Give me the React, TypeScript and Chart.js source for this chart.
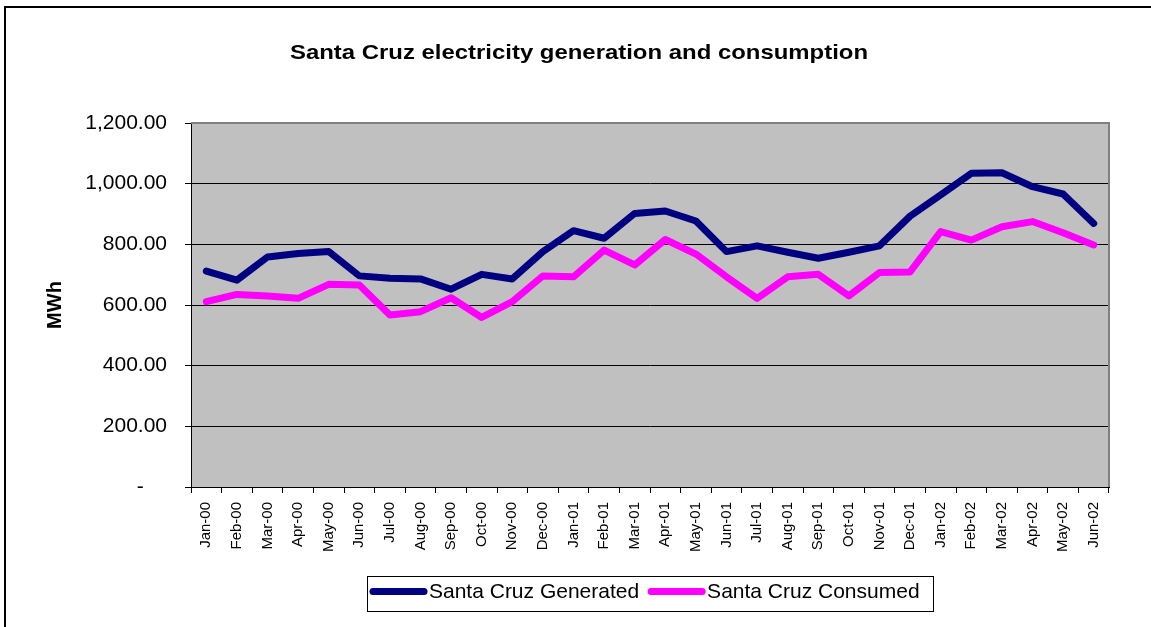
import { useEffect, useRef } from 'react';
import { Chart, registerables } from 'chart.js';

Chart.register(...registerables);

const W = 1151;
const H = 627;
const FONT = '"Liberation Sans", Arial, Helvetica, sans-serif';

const months = [
  'Jan-00', 'Feb-00', 'Mar-00', 'Apr-00', 'May-00', 'Jun-00',
  'Jul-00', 'Aug-00', 'Sep-00', 'Oct-00', 'Nov-00', 'Dec-00',
  'Jan-01', 'Feb-01', 'Mar-01', 'Apr-01', 'May-01', 'Jun-01',
  'Jul-01', 'Aug-01', 'Sep-01', 'Oct-01', 'Nov-01', 'Dec-01',
  'Jan-02', 'Feb-02', 'Mar-02', 'Apr-02', 'May-02', 'Jun-02',
];

// Monthly energy, MWh
const generated = [
  712, 682, 758, 770, 776, 696, 688, 686, 652, 701, 686, 776,
  845, 820, 902, 910, 877, 776, 795, 774, 754, 774, 795, 893,
  963, 1034, 1036, 990, 966, 869,
];
const consumed = [
  611, 635, 630, 622, 668, 666, 567, 578, 624, 559, 611, 696,
  693, 781, 732, 816, 768, 693, 622, 693, 701, 630, 707, 709,
  842, 814, 858, 875, 838, 798,
];

const seriesNames = ['Santa Cruz Generated', 'Santa Cruz Consumed'];
const seriesColors = ['#000080', '#ff00ff'];
const titleText = 'Santa Cruz electricity generation and consumption';
const yTitle = 'MWh';
const yMin = 0;
const yMax = 1200;
const yStep = 200;

const fmt = (v: number) =>
  v === 0
    ? '-    '
    : v.toLocaleString('en-US', { minimumFractionDigits: 2, maximumFractionDigits: 2 });

const decorPlugin = {
  id: 'decor',
  beforeDraw(chart: any) {
    const { ctx, chartArea: a } = chart;
    ctx.save();
    ctx.fillStyle = '#ffffff';
    ctx.fillRect(0, 0, W, H);
    ctx.fillStyle = '#c0c0c0';
    ctx.fillRect(a.left, a.top, a.right - a.left, a.bottom - a.top);
    ctx.restore();
  },
  beforeDatasetsDraw(chart: any) {
    const { ctx, chartArea: a } = chart;
    ctx.save();
    ctx.strokeStyle = '#808080';
    ctx.lineWidth = 2;
    ctx.beginPath();
    ctx.moveTo(a.left, a.top);
    ctx.lineTo(a.right, a.top);
    ctx.lineTo(a.right, a.bottom);
    ctx.stroke();
    ctx.restore();
  },
  afterDraw(chart: any) {
    const { ctx, chartArea: a } = chart;
    ctx.save();
    // outer chart frame
    ctx.fillStyle = '#000';
    ctx.fillRect(4, 6, W, 2);
    ctx.fillRect(4, 6, 2, H);

    // title, slightly widened
    ctx.fillStyle = '#000';
    ctx.font = `bold 21px ${FONT}`;
    ctx.textAlign = 'center';
    ctx.textBaseline = 'alphabetic';
    const tw = ctx.measureText(titleText).width;
    const sx = 578 / tw;
    ctx.save();
    ctx.translate(579, 59);
    ctx.scale(sx, 1);
    ctx.fillText(titleText, 0, 0);
    ctx.restore();

    // value axis title
    ctx.save();
    ctx.translate(55, (a.top + a.bottom) / 2);
    ctx.rotate(-Math.PI / 2);
    ctx.font = `bold 20px ${FONT}`;
    ctx.textAlign = 'center';
    ctx.textBaseline = 'middle';
    ctx.fillText(yTitle, 0, 0);
    ctx.restore();

    // legend
    const lx = 367.5, ly = 576.5, lw = 566, lh = 35;
    ctx.strokeStyle = '#000';
    ctx.lineWidth = 1;
    ctx.strokeRect(lx, ly, lw, lh);
    ctx.font = `21px ${FONT}`;
    ctx.textAlign = 'left';
    ctx.textBaseline = 'middle';
    let x = 373;
    const cy = 592;
    seriesNames.forEach((name, i) => {
      ctx.strokeStyle = seriesColors[i];
      ctx.lineWidth = 7;
      ctx.lineCap = 'round';
      ctx.beginPath();
      ctx.moveTo(x, cy - 0.5);
      ctx.lineTo(x + 51, cy - 0.5);
      ctx.stroke();
      ctx.fillStyle = '#000';
      ctx.fillText(name, x + 56, cy);
      x += 56 + ctx.measureText(name).width + 12;
    });
    ctx.restore();
  },
};

export default function App() {
  const ref = useRef<HTMLCanvasElement>(null);

  useEffect(() => {
    const chart = new Chart(ref.current as HTMLCanvasElement, {
      type: 'line',
      data: {
        labels: months,
        datasets: [
          { label: seriesNames[0], data: generated, borderColor: seriesColors[0], backgroundColor: seriesColors[0] },
          { label: seriesNames[1], data: consumed, borderColor: seriesColors[1], backgroundColor: seriesColors[1] },
        ],
      },
      options: {
        responsive: false,
        animation: false,
        layout: { padding: { top: 123, right: 42, left: 0, bottom: 0 } },
        plugins: {
          legend: { display: false },
          title: { display: false },
          tooltip: { enabled: false },
        },
        elements: {
          point: { radius: 0 },
          line: { tension: 0, borderWidth: 7, borderCapStyle: 'round', borderJoinStyle: 'round' },
        },
        scales: {
          x: {
            offset: true,
            grid: { offset: true, drawOnChartArea: false, color: '#000', tickLength: 6, lineWidth: 1 },
            border: { color: '#000', width: 1 },
            ticks: {
              autoSkip: false,
              minRotation: 90,
              maxRotation: 90,
              padding: 9,
              color: '#000',
              font: { family: FONT, size: 15 },
            },
            afterFit: (s: any) => { s.height = 140; },
          },
          y: {
            min: yMin,
            max: yMax,
            grid: { color: '#000', tickLength: 6, lineWidth: 1 },
            border: { color: '#000', width: 1 },
            ticks: {
              stepSize: yStep,
              padding: 18,
              color: '#000',
              font: { family: FONT, size: 21 },
              callback: (v: any) => fmt(Number(v)),
            },
            afterFit: (s: any) => { s.width = 191; },
          },
        },
      } as any,
      plugins: [decorPlugin],
    });
    return () => chart.destroy();
  }, []);

  return (
    <div style={{ position: 'fixed', left: 0, top: 0, width: W, height: H, background: '#fff' }}>
      <canvas ref={ref} width={W} height={H} />
    </div>
  );
}
